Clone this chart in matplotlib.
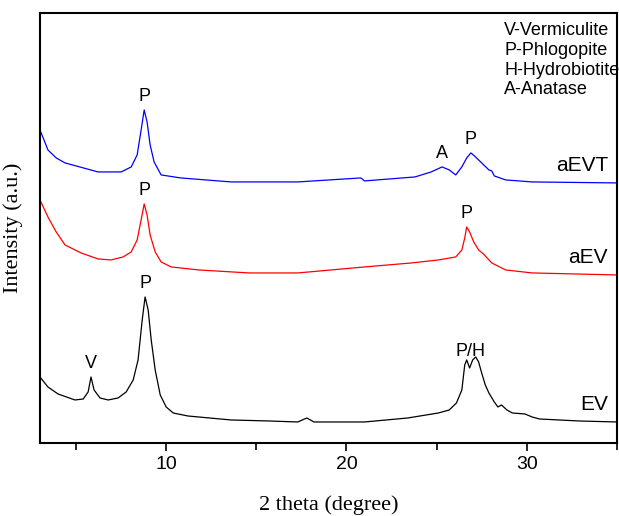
import matplotlib.pyplot as plt
import numpy as np

# EV (black) - 2theta in degree, intensity (a.u.) above its baseline
ev_x = [3.0, 3.44, 4.0, 4.94, 5.4, 5.67, 5.83, 6.0, 6.33, 6.78, 7.33, 7.78, 8.17, 8.44, 8.67, 8.83,
        9.0, 9.17, 9.39, 9.67, 10.0, 10.39, 11.2, 11.8, 13.6, 15.7, 17.3, 17.8, 18.2, 21.0, 23.4,
        25.1, 25.7, 26.1, 26.4, 26.56, 26.67, 26.83, 27.0, 27.17, 27.33, 27.5, 27.7, 27.9, 28.2,
        28.4, 28.6, 28.9, 29.2, 29.9, 30.3, 30.7, 32.9, 35.0]
ev_y = [45, 35, 28, 22, 23, 30, 45, 32, 24, 22, 24, 30, 42, 62, 102, 125,
        112, 82, 52, 27, 15, 9, 6, 5, 2, 1, 0, 4, 0, 0, 4,
        9, 12, 19, 32, 57, 62, 54, 62, 65, 60, 49, 37, 29, 20,
        15, 17, 12, 9, 8, 5, 3, 1, 0]

# aEV (red)
aev_x = [3.0, 3.44, 3.9, 4.39, 5.28, 6.22, 6.94, 7.61, 8.06, 8.39, 8.61, 8.78, 8.94, 9.11, 9.39,
         9.72, 10.28, 11.8, 14.6, 17.3, 21.0, 23.6, 25.1, 26.06, 26.4, 26.56, 26.67, 26.83,
         27.06, 27.33, 27.6, 28.06, 28.83, 30.3, 35.0]
aev_y = [75, 58, 43, 30, 22, 16, 15, 18, 23, 35, 55, 71, 60, 40, 23,
         13, 8, 5, 2, 2, 8, 12, 15, 18, 25, 37, 48, 43,
         33, 25, 21, 12, 5, 2, 0]

# aEVT (blue)
aevt_x = [3.0, 3.44, 3.9, 4.39, 6.22, 7.5, 8.06, 8.39, 8.61, 8.78, 8.94, 9.11, 9.33, 9.72, 10.8,
          13.6, 17.3, 20.8, 21.0, 23.8, 24.7, 25.3, 25.7, 26.06, 26.4, 26.67, 26.9, 27.1, 27.33,
          27.67, 27.9, 28.06, 28.2, 28.83, 30.3, 35.0]
aevt_y = [53, 33, 25, 20, 11, 11, 16, 28, 53, 73, 61, 38, 21, 8, 5,
          1, 1, 5, 2, 6, 11, 16, 13, 8, 16, 25, 30, 27, 23,
          17, 13, 12, 7, 3, 1, 0]

names = ["EV", "aEV", "aEVT"]
offsets = [0, 147, 239]
colors = ["black", "red", "blue"]

# peak labels: (curve index, 2theta, text)
peak_labels = [(0, 5.83, "V"), (0, 8.83, "P"), (0, 26.9, "P/H"),
               (1, 8.78, "P"), (1, 26.67, "P"),
               (2, 8.78, "P"), (2, 25.3, "A"), (2, 26.9, "P")]
legend_lines = ["V-Vermiculite", "P-Phlogopite", "H-Hydrobiotite", "A-Anatase"]

plt.rcParams['font.family'] = ['Liberation Sans', 'DejaVu Sans']

fig = plt.figure(figsize=(6.19, 5.16), dpi=100)
ax = fig.add_axes([0.0646, 0.1415, 0.932, 0.8335])

data = [(ev_x, ev_y), (aev_x, aev_y), (aevt_x, aevt_y)]
for (xs, ys), off, c, name in zip(data, offsets, colors, names):
    ax.plot(xs, np.array(ys) + off, '-', color=c, lw=0.9)
    ax.text(34.5, off + 17, name, ha='right', va='center', fontsize=15)

for i, px, t in peak_labels:
    xs, ys = data[i]
    py = np.interp(px, xs, ys) + offsets[i]
    ax.text(px, py + 5, t, ha='center', va='bottom', fontsize=13)

ax.text(0.805, 0.978, "\n".join(legend_lines), transform=ax.transAxes,
        ha='left', va='top', fontsize=13, linespacing=1.2)

ax.set_xlim(3, 35)
ax.set_ylim(-21, 409)
ax.set_xticks([10, 20, 30])
ax.set_xticks([5, 15, 25, 35], minor=True)
ax.set_yticks([])
ax.tick_params(axis='x', which='major', direction='out', length=6, width=1.2, labelsize=14)
ax.tick_params(axis='x', which='minor', direction='out', length=5, width=1.2)
for s in ax.spines.values():
    s.set_linewidth(1.5)

ax.set_xlabel("2 theta (degree)", family='Liberation Serif', fontsize=16, labelpad=16)
ax.set_ylabel("Intensity (a.u.)", family='Liberation Serif', fontsize=16, labelpad=12)

fig.savefig("out.png", dpi=100)
